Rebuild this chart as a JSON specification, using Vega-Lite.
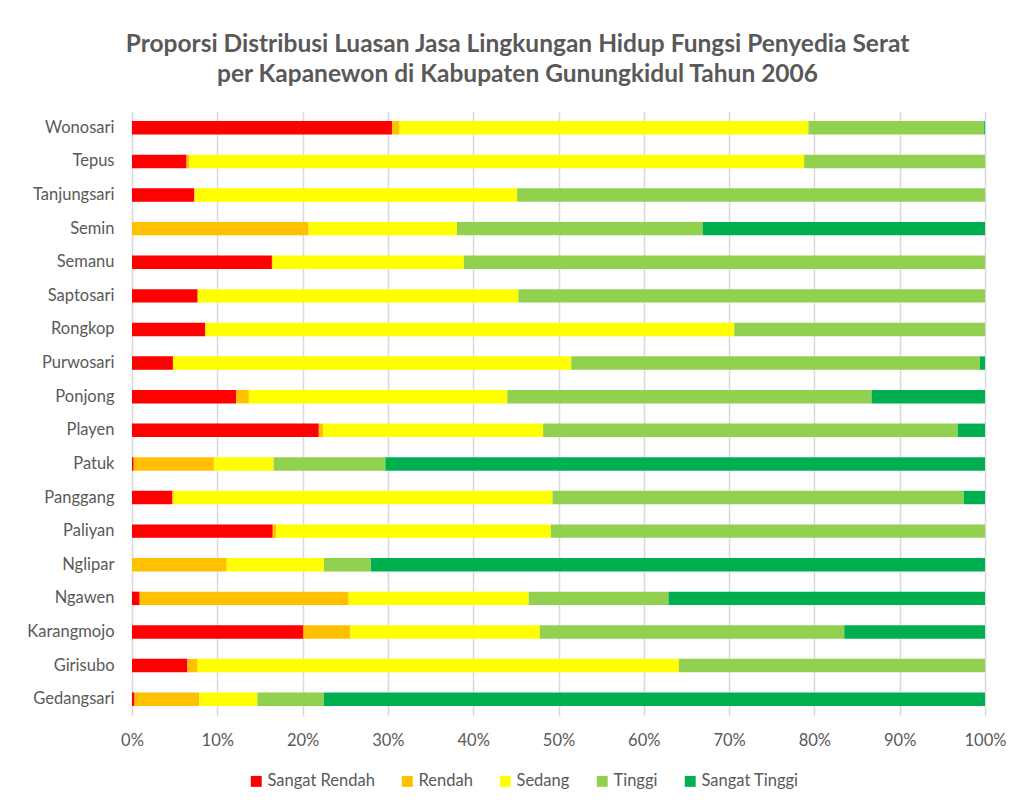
{
  "$schema": "https://vega.github.io/schema/vega-lite/v6.json",
  "autosize": {"type": "none"},
  "width": 853,
  "height": 605,
  "padding": {"left": 132, "top": 111, "right": 28, "bottom": 87},
  "background": "white",
  "title": {
    "text": ["Proporsi Distribusi Luasan Jasa Lingkungan Hidup Fungsi Penyedia Serat", "per Kapanewon di Kabupaten Gunungkidul Tahun 2006"],
    "font": "Lato",
    "fontSize": 24.5,
    "fontWeight": "bold",
    "color": "#595959",
    "lineHeight": 30,
    "anchor": "middle",
    "dx": -41,
    "offset": 24
  },
  "datasets": {
    "kelas": [
      {"kelas": "Sangat Rendah", "urut": 1},
      {"kelas": "Rendah", "urut": 2},
      {"kelas": "Sedang", "urut": 3},
      {"kelas": "Tinggi", "urut": 4},
      {"kelas": "Sangat Tinggi", "urut": 5}
    ]
  },
  "data": {
    "values": [
      {"kapanewon": "Wonosari", "Sangat Rendah": 30.5, "Rendah": 0.8, "Sedang": 48.0, "Tinggi": 20.6, "Sangat Tinggi": 0.1},
      {"kapanewon": "Tepus", "Sangat Rendah": 6.4, "Rendah": 0.3, "Sedang": 72.1, "Tinggi": 21.2, "Sangat Tinggi": 0},
      {"kapanewon": "Tanjungsari", "Sangat Rendah": 7.3, "Rendah": 0.05, "Sedang": 37.8, "Tinggi": 54.85, "Sangat Tinggi": 0},
      {"kapanewon": "Semin", "Sangat Rendah": 0, "Rendah": 20.7, "Sedang": 17.4, "Tinggi": 28.8, "Sangat Tinggi": 33.1},
      {"kapanewon": "Semanu", "Sangat Rendah": 16.4, "Rendah": 0.1, "Sedang": 22.4, "Tinggi": 61.1, "Sangat Tinggi": 0},
      {"kapanewon": "Saptosari", "Sangat Rendah": 7.7, "Rendah": 0, "Sedang": 37.6, "Tinggi": 54.7, "Sangat Tinggi": 0},
      {"kapanewon": "Rongkop", "Sangat Rendah": 8.6, "Rendah": 0, "Sedang": 62.0, "Tinggi": 29.4, "Sangat Tinggi": 0},
      {"kapanewon": "Purwosari", "Sangat Rendah": 4.8, "Rendah": 0, "Sedang": 46.7, "Tinggi": 47.9, "Sangat Tinggi": 0.6},
      {"kapanewon": "Ponjong", "Sangat Rendah": 12.2, "Rendah": 1.5, "Sedang": 30.3, "Tinggi": 42.7, "Sangat Tinggi": 13.3},
      {"kapanewon": "Playen", "Sangat Rendah": 21.9, "Rendah": 0.5, "Sedang": 25.8, "Tinggi": 48.6, "Sangat Tinggi": 3.2},
      {"kapanewon": "Patuk", "Sangat Rendah": 0.2, "Rendah": 9.4, "Sedang": 7.0, "Tinggi": 13.1, "Sangat Tinggi": 70.3},
      {"kapanewon": "Panggang", "Sangat Rendah": 4.7, "Rendah": 0.2, "Sedang": 44.4, "Tinggi": 48.2, "Sangat Tinggi": 2.5},
      {"kapanewon": "Paliyan", "Sangat Rendah": 16.5, "Rendah": 0.4, "Sedang": 32.2, "Tinggi": 50.9, "Sangat Tinggi": 0},
      {"kapanewon": "Nglipar", "Sangat Rendah": 0, "Rendah": 11.1, "Sedang": 11.4, "Tinggi": 5.5, "Sangat Tinggi": 72.0},
      {"kapanewon": "Ngawen", "Sangat Rendah": 0.9, "Rendah": 24.5, "Sedang": 21.1, "Tinggi": 16.4, "Sangat Tinggi": 37.1},
      {"kapanewon": "Karangmojo", "Sangat Rendah": 20.1, "Rendah": 5.5, "Sedang": 22.2, "Tinggi": 35.7, "Sangat Tinggi": 16.5},
      {"kapanewon": "Girisubo", "Sangat Rendah": 6.5, "Rendah": 1.2, "Sedang": 56.4, "Tinggi": 35.9, "Sangat Tinggi": 0},
      {"kapanewon": "Gedangsari", "Sangat Rendah": 0.3, "Rendah": 7.6, "Sedang": 6.8, "Tinggi": 7.8, "Sangat Tinggi": 77.5}
    ]
  },
  "transform": [
    {"fold": ["Sangat Rendah", "Rendah", "Sedang", "Tinggi", "Sangat Tinggi"], "as": ["kelas", "nilai"]},
    {"lookup": "kelas", "from": {"data": {"name": "kelas"}, "key": "kelas", "fields": ["urut"]}}
  ],
  "mark": {"type": "bar"},
  "encoding": {
    "y": {
      "field": "kapanewon",
      "type": "nominal",
      "sort": "descending",
      "title": null,
      "scale": {"paddingInner": 0.6, "paddingOuter": 0.3},
      "axis": {"ticks": false, "domain": false, "labelFont": "Lato", "labelFontSize": 16.5, "labelColor": "#595959", "labelPadding": 18}
    },
    "x": {
      "field": "nilai",
      "type": "quantitative",
      "stack": "normalize",
      "title": null,
      "scale": {"domain": [0, 1]},
      "axis": {"format": "%", "values": [0, 0.1, 0.2, 0.3, 0.4, 0.5, 0.6, 0.7, 0.8, 0.9, 1], "labelOverlap": false, "labelFlush": false, "ticks": false, "domain": false, "grid": true, "gridColor": "#d9d9d9", "gridWidth": 1.5, "labelFont": "Lato", "labelFontSize": 16.5, "labelColor": "#595959", "labelPadding": 16}
    },
    "color": {
      "field": "kelas",
      "type": "nominal",
      "title": null,
      "scale": {
        "domain": ["Sangat Rendah", "Rendah", "Sedang", "Tinggi", "Sangat Tinggi"],
        "range": ["#FF0000", "#FFC000", "#FFFF00", "#92D050", "#00B050"]
      },
      "legend": {
        "orient": "none",
        "direction": "horizontal",
        "columns": 5,
        "legendX": 116,
        "legendY": 662,
        "symbolType": "square",
        "symbolSize": 120,
        "symbolStrokeWidth": 0,
        "labelFont": "Lato",
        "labelFontSize": 16.5,
        "labelColor": "#595959",
        "columnPadding": 24,
        "labelOffset": 3
      }
    },
    "order": {"field": "urut", "type": "quantitative", "sort": "ascending"}
  },
  "config": {
    "view": {"stroke": null}
  }
}
